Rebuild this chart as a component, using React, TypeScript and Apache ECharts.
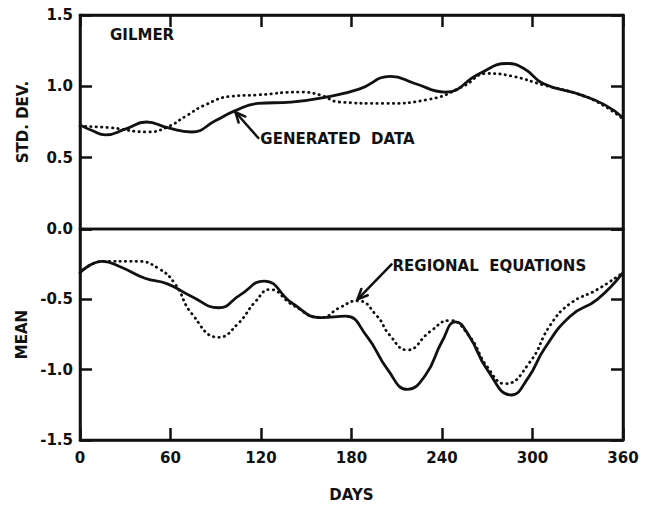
import React, { useEffect, useRef } from "react";
import * as echarts from "echarts";

// Station: GILMER. Day of year vs. standardized statistics.
const dayTicks = [0, 60, 120, 180, 240, 300, 360];

// Standard deviation, generated data (solid)
const stdDevGenerated: [number, number][] = [
  [0, 0.73], [8, 0.69], [17, 0.66], [30, 0.7], [44, 0.75], [58, 0.71],
  [74, 0.68], [90, 0.76], [103, 0.83], [118, 0.88], [140, 0.89], [166, 0.93],
  [185, 0.98], [206, 1.07], [222, 1.02], [242, 0.96], [265, 1.09], [283, 1.16],
  [295, 1.12], [307, 1.02], [332, 0.94], [348, 0.87], [360, 0.78],
];

// Standard deviation, regional equations (dotted)
const stdDevRegional: [number, number][] = [
  [0, 0.72], [20, 0.71], [45, 0.68], [58, 0.715], [70, 0.79], [83, 0.87],
  [100, 0.93], [118, 0.94], [146, 0.96], [159, 0.94], [172, 0.89], [201, 0.88],
  [232, 0.91], [254, 1.0], [270, 1.09], [287, 1.07], [307, 1.01], [332, 0.94],
  [348, 0.86], [360, 0.77],
];

// Mean, generated data (solid)
const meanGenerated: [number, number][] = [
  [0, -0.31], [15, -0.23], [27, -0.27], [43, -0.35], [58, -0.39],
  [74, -0.48], [92, -0.56], [106, -0.47], [122, -0.37], [141, -0.53],
  [160, -0.63], [176, -0.62], [190, -0.76], [204, -1.0], [217, -1.14], [229, -1.04],
  [240, -0.8], [249, -0.66], [258, -0.76], [270, -1.0], [286, -1.18], [297, -1.06],
  [308, -0.85], [325, -0.62], [343, -0.5], [360, -0.31],
];

// Mean, regional equations (dotted)
const meanRegional: [number, number][] = [
  [0, -0.31], [15, -0.23], [38, -0.23], [52, -0.28], [63, -0.39],
  [74, -0.6], [92, -0.77], [105, -0.67], [116, -0.52], [126, -0.43],
  [141, -0.54], [160, -0.63], [172, -0.56], [184, -0.51], [197, -0.62], [205, -0.75],
  [217, -0.86], [232, -0.73], [245, -0.65], [258, -0.76], [270, -0.98], [282, -1.1],
  [298, -0.95], [312, -0.68], [325, -0.53], [343, -0.43], [360, -0.31],
];

// Points the two callout arrows point at
const generatedCallout: [number, number] = [103, 0.82];
const regionalCallout: [number, number] = [184, -0.5];

const FONT = "DejaVu Sans";
const INK = "#111";

const textStyle = () => ({ fontFamily: FONT, fontWeight: "bold" as const, fontSize: 15, color: INK });
const frameLine = () => ({ show: true, onZero: false, lineStyle: { color: INK, width: 2.5 } });
const inTick = () => ({ show: true, inside: true, length: 12, lineStyle: { color: INK, width: 2.5 } });

function arrow(tip: number[], tail: number[]) {
  const dx = tip[0] - tail[0];
  const dy = tip[1] - tail[1];
  const len = Math.hypot(dx, dy);
  const ux = dx / len;
  const uy = dy / len;
  const head = 11;
  const ang = 0.42;
  const p1 = [
    tip[0] - head * (ux * Math.cos(ang) - uy * Math.sin(ang)),
    tip[1] - head * (uy * Math.cos(ang) + ux * Math.sin(ang)),
  ];
  const p2 = [
    tip[0] - head * (ux * Math.cos(-ang) - uy * Math.sin(-ang)),
    tip[1] - head * (uy * Math.cos(-ang) + ux * Math.sin(-ang)),
  ];
  const style = { stroke: INK, lineWidth: 2.5, fill: "none", lineCap: "round" as const };
  return [
    { type: "line", shape: { x1: tail[0], y1: tail[1], x2: tip[0], y2: tip[1] }, style },
    { type: "polyline", shape: { points: [p1, tip, p2] }, style },
  ];
}

export default function App() {
  const ref = useRef<HTMLDivElement>(null);

  useEffect(() => {
    const chart = echarts.init(ref.current!, null, { renderer: "svg" });

    const solid = { color: INK, width: 2.8 };
    const dotted = { color: INK, width: 2.8, type: [0.4, 5] as number[], cap: "round" as const };

    chart.setOption({
      animation: false,
      backgroundColor: "#fff",
      grid: [
        { left: 80, right: 22, top: 15, height: 214, show: true, borderColor: INK, borderWidth: 2.5 },
        { left: 80, right: 22, top: 229, height: 211, show: true, borderColor: INK, borderWidth: 2.5 },
      ],
      xAxis: [
        {
          type: "value", gridIndex: 0, position: "top", min: 0, max: 360, interval: 60,
          axisLine: frameLine(), axisTick: inTick(), axisLabel: { show: false }, splitLine: { show: false },
        },
        {
          type: "value", gridIndex: 1, position: "bottom", min: 0, max: 360, interval: 60,
          axisLine: frameLine(), axisTick: inTick(), splitLine: { show: false },
          axisLabel: { ...textStyle(), margin: 10, formatter: (v: number) => (dayTicks.includes(v) ? String(v) : "") },
          name: "DAYS", nameLocation: "middle", nameGap: 47, nameTextStyle: textStyle(),
        },
      ],
      yAxis: [
        {
          type: "value", gridIndex: 0, position: "left", min: 0, max: 1.5, interval: 0.5,
          axisLine: frameLine(), axisTick: inTick(), splitLine: { show: false },
          axisLabel: { ...textStyle(), margin: 7, formatter: (v: number) => v.toFixed(1) },
          name: "STD. DEV.", nameLocation: "middle", nameGap: 50, nameRotate: 90, nameTextStyle: textStyle(),
        },
        {
          type: "value", gridIndex: 0, position: "right", min: 0, max: 1.5, interval: 0.5,
          axisLine: frameLine(), axisTick: inTick(), axisLabel: { show: false }, splitLine: { show: false },
        },
        {
          type: "value", gridIndex: 1, position: "left", min: -1.5, max: 0, interval: 0.5,
          axisLine: frameLine(), axisTick: inTick(), splitLine: { show: false },
          axisLabel: { ...textStyle(), margin: 7, formatter: (v: number) => (v === 0 ? "" : v.toFixed(1)) },
          name: "MEAN", nameLocation: "middle", nameGap: 46, nameRotate: 90, nameTextStyle: textStyle(),
        },
        {
          type: "value", gridIndex: 1, position: "right", min: -1.5, max: 0, interval: 0.5,
          axisLine: frameLine(), axisTick: inTick(), axisLabel: { show: false }, splitLine: { show: false },
        },
      ],
      series: [
        { name: "Generated data", type: "line", xAxisIndex: 0, yAxisIndex: 0, data: stdDevGenerated, smooth: 0.5, showSymbol: false, lineStyle: solid },
        { name: "Regional equations", type: "line", xAxisIndex: 0, yAxisIndex: 0, data: stdDevRegional, smooth: 0.5, showSymbol: false, lineStyle: dotted },
        { name: "Generated data", type: "line", xAxisIndex: 1, yAxisIndex: 2, data: meanGenerated, smooth: 0.5, showSymbol: false, lineStyle: solid },
        { name: "Regional equations", type: "line", xAxisIndex: 1, yAxisIndex: 2, data: meanRegional, smooth: 0.5, showSymbol: false, lineStyle: dotted },
      ],
    });

    const tipGen = chart.convertToPixel({ seriesIndex: 0 }, generatedCallout) as number[];
    const tipReg = chart.convertToPixel({ seriesIndex: 3 }, regionalCallout) as number[];

    chart.setOption({
      graphic: [
        { type: "text", left: 110, top: 27, style: { text: "GILMER", font: `bold 15px "${FONT}"`, fill: INK } },
        ...arrow(tipGen, [tipGen[0] + 23, tipGen[1] + 26]),
        {
          type: "text", x: tipGen[0] + 25, y: tipGen[1] + 27,
          style: { text: "GENERATED  DATA", font: `bold 15px "${FONT}"`, fill: INK, verticalAlign: "middle" },
        },
        ...arrow(tipReg, [tipReg[0] + 34, tipReg[1] - 35]),
        {
          type: "text", x: tipReg[0] + 35, y: tipReg[1] - 33,
          style: { text: "REGIONAL  EQUATIONS", font: `bold 15px "${FONT}"`, fill: INK, verticalAlign: "middle" },
        },
      ],
    });

    return () => chart.dispose();
  }, []);

  return (
    <div
      ref={ref}
      style={{ position: "fixed", left: 0, top: 0, width: 645, height: 505, background: "#fff" }}
    />
  );
}
